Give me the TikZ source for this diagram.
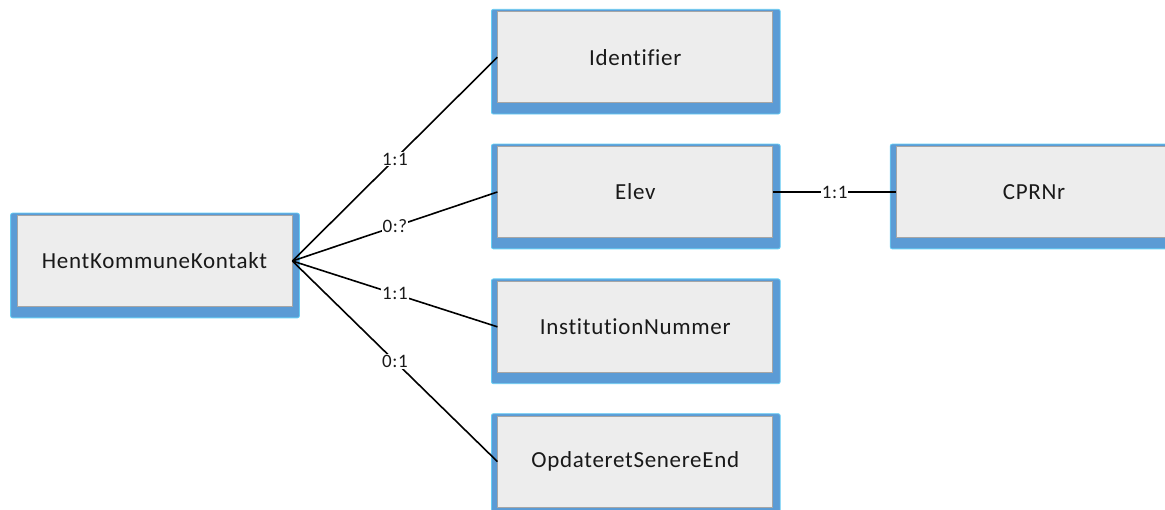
\documentclass[tikz,border=0pt]{standalone}
\usepackage{fontspec}
\setmainfont[Ligatures=NoCommon,LetterSpace=3]{Carlito}
\usetikzlibrary{positioning,backgrounds}
\definecolor{boxblue}{HTML}{5B9BD5}
\definecolor{boxgray}{HTML}{EDEDED}
\definecolor{boxline}{HTML}{A6A6A6}

\begin{document}
\begin{tikzpicture}[x=1pt,y=1pt,line width=1.6pt,
    entity/.style={rectangle,fill=boxgray,draw=boxline,line width=0.8pt,
      minimum width=275pt,minimum height=91pt,inner sep=0pt,
      font=\fontsize{23}{27}\selectfont,text=black!90},
    card/.style={fill=white,inner sep=1pt,font=\fontsize{19}{22}\selectfont,text=black!90}]

\useasboundingbox (0,0) rectangle (1165,-510);

\node[entity] (hent) at (154.5,-261) {HentKommuneKontakt};
\node[entity] (elev) [right=205pt of hent,yshift=69pt] {Elev};
\node[entity] (ident) [above=43pt of elev] {Identifier};
\node[entity] (inst) [below=43pt of elev] {InstitutionNummer};
\node[entity] (opd) [below=43pt of inst] {OpdateretSenereEnd};
\node[entity] (cpr) [right=123pt of elev] {CPRNr};

% blue frame behind each box
\begin{scope}[on background layer]
\foreach \n in {hent,ident,elev,inst,opd,cpr}
  \filldraw[boxblue,draw=cyan!60,line width=0.8pt,rounded corners=2pt]
    ([xshift=-6pt,yshift=2pt]\n.north west) rectangle ([xshift=7pt,yshift=-11pt]\n.south east);
\end{scope}

\draw (hent.east) -- node[card] {1:1} (ident.west);
\draw (hent.east) -- node[card] {0:?} (elev.west);
\draw (hent.east) -- node[card] {1:1} (inst.west);
\draw (hent.east) -- node[card] {0:1} (opd.west);
\draw (elev.east) -- node[card] {1:1} (cpr.west);

\end{tikzpicture}
\end{document}
